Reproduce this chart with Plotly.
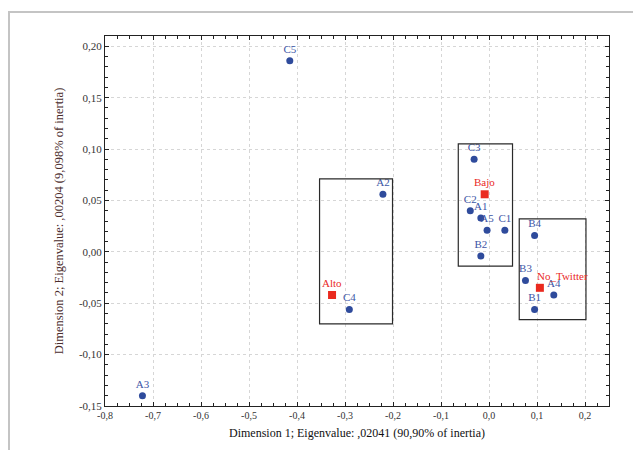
import numpy as np
import plotly.graph_objects as go

# ---- data ----
row_labels = ["C5", "A3", "A2", "C4", "C3", "C2", "A1", "A5", "C1", "B2", "B4", "B3", "A4", "B1"]
row_x = [-0.415, -0.722, -0.221, -0.291, -0.031, -0.039, -0.017, -0.004, 0.033, -0.017, 0.095, 0.076, 0.135, 0.095]
row_y = [0.186, -0.140, 0.056, -0.056, 0.090, 0.040, 0.033, 0.021, 0.021, -0.004, 0.016, -0.028, -0.042, -0.056]

col_labels = ["Alto", "Bajo", "No_Twitter"]
col_x = [-0.327, -0.009, 0.106]
col_y = [-0.042, 0.056, -0.035]

# group boxes: x0, x1, y0, y1
box_x0 = [-0.353, -0.064, 0.063]
box_x1 = [-0.201, 0.049, 0.202]
box_y0 = [-0.070, -0.014, -0.066]
box_y1 = [0.071, 0.105, 0.032]

x_tickvals = [-0.8, -0.7, -0.6, -0.5, -0.4, -0.3, -0.2, -0.1, 0.0, 0.1, 0.2]
x_ticktext = ["-0,8", "-0,7", "-0,6", "-0,5", "-0,4", "-0,3", "-0,2", "-0,1", "0,0", "0,1", "0,2"]
y_tickvals = [-0.15, -0.10, -0.05, 0.0, 0.05, 0.10, 0.15, 0.20]
y_ticktext = ["-0,15", "-0,10", "-0,05", "0,00", "0,05", "0,10", "0,15", "0,20"]

x_title = "Dimension 1; Eigenvalue: ,02041 (90,90% of inertia)"
y_title = "Dimension 2; Eigenvalue: ,00204 (9,098% of inertia)"

BLUE = "#2f4b9c"
BLUE_TXT = "#3d56a6"
RED = "#ea2a1f"
SERIF = "Liberation Serif"

fig = go.Figure()

fig.add_trace(go.Scatter(
    x=row_x, y=row_y, mode="markers+text", text=row_labels,
    textposition="top center",
    textfont=dict(family=SERIF, size=11, color=BLUE_TXT),
    marker=dict(symbol="circle", size=7, color=BLUE),
    showlegend=False, cliponaxis=False,
))

fig.add_trace(go.Scatter(
    x=col_x, y=col_y, mode="markers",
    marker=dict(symbol="square", size=8, color=RED),
    showlegend=False, cliponaxis=False,
))

# column-point labels: (xanchor, xshift) per label
col_anchor = ["center", "center", "left"]
col_xshift = [0, 0, -5]
for lx, ly, lt, xa, xs in zip(col_x, col_y, col_labels, col_anchor, col_xshift):
    fig.add_annotation(x=lx, y=ly, text=lt, showarrow=False, xanchor=xa, yanchor="bottom",
                       xshift=xs, yshift=4,
                       font=dict(family=SERIF, size=11, color=RED))

for x0, x1, y0, y1 in zip(box_x0, box_x1, box_y0, box_y1):
    fig.add_shape(type="rect", xref="x", yref="y", x0=x0, x1=x1, y0=y0, y1=y1,
                  line=dict(color="#2a2a2a", width=1.2), fillcolor="rgba(0,0,0,0)")

# page body has an 8px margin: figure occupies (8,8)-(641,450)
FW, FH = 633, 442
L, R, T, B = 97, 32, 28, 44
W, H = FW - L - R, FH - T - B
fig.add_shape(type="rect", xref="paper", yref="paper",
              x0=(1 - L) / W, x1=(660 - L) / W,
              y0=-(470 - (FH - B)) / H, y1=1 + (T - 4) / H,
              line=dict(color="#c4c4c4", width=2), layer="below")

x_minor = list(np.round(np.arange(-0.8, 0.2501, 0.025), 4))
y_minor = list(np.round(np.arange(-0.15, 0.2101, 0.01), 4))

fig.update_xaxes(
    range=[-0.8, 0.25], tickmode="array", tickvals=x_tickvals, ticktext=x_ticktext,
    ticks="inside", ticklen=4, tickcolor="#222", mirror="ticks",
    showline=True, linecolor="#222", linewidth=1,
    showgrid=True, gridcolor="#d6d6d6", griddash="dot", gridwidth=1,
    zeroline=False,
    minor=dict(tickmode="array", tickvals=x_minor, ticks="inside", ticklen=3, tickcolor="#222", showgrid=False),
    tickfont=dict(family=SERIF, size=10, color="#333"),
    title=dict(text=x_title, font=dict(family=SERIF, size=12, color="#111"), standoff=8),
)
fig.update_yaxes(
    range=[-0.15, 0.21], tickmode="array", tickvals=y_tickvals, ticktext=y_ticktext,
    ticks="inside", ticklen=4, tickcolor="#222", mirror="ticks",
    showline=True, linecolor="#222", linewidth=1,
    showgrid=True, gridcolor="#d6d6d6", griddash="dot", gridwidth=1,
    zeroline=False,
    minor=dict(tickmode="array", tickvals=y_minor, ticks="inside", ticklen=3, tickcolor="#222", showgrid=False),
    tickfont=dict(family=SERIF, size=11, color="#333"),
    title=dict(text=y_title, font=dict(family=SERIF, size=12.5, color="#4a2c2c"), standoff=12),
)

fig.update_layout(
    width=FW, height=FH,
    margin=dict(l=L, r=R, t=T, b=B, autoexpand=False),
    paper_bgcolor="white", plot_bgcolor="white",
)

fig.write_html("out.html")
